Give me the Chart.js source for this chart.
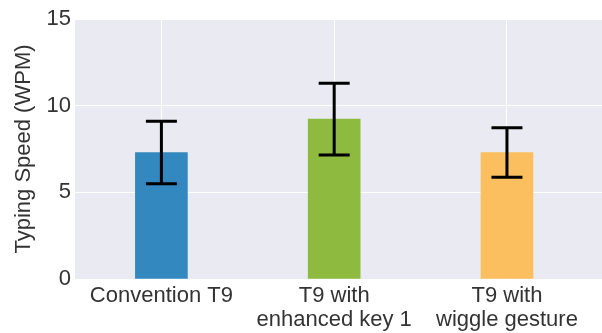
<!DOCTYPE html>
<html>
<head>
<meta charset="utf-8">
<script src="https://cdn.jsdelivr.net/npm/chart.js@4"></script>
<style>
  body { margin: 0; background: #fff; }
  #wrap { width: 602px; height: 333px; }
</style>
</head>
<body>
<div id="wrap"><canvas id="myChart" width="602" height="333"></canvas></div>
<script>
const categories = [["Convention T9"], ["T9 with", "enhanced key 1"], ["T9 with", "wiggle gesture"]];
const means = [7.3, 9.22, 7.3];
const errs = [1.8, 2.07, 1.43];
const yTicks = [0, 5, 10, 15];
const barColors = ["#3388bf", "#8fba40", "#fbbf5f"];

// grey seaborn-like plot background
const plotBg = {
  id: "plotBg",
  beforeDraw(chart) {
    const { ctx, chartArea: a } = chart;
    ctx.save();
    ctx.fillStyle = "#eaeaf2";
    ctx.fillRect(a.left, a.top, a.right - a.left, a.bottom - a.top);
    ctx.restore();
  },
};

// error bars with caps
const errorBars = {
  id: "errorBars",
  afterDatasetsDraw(chart) {
    const { ctx, scales } = chart;
    ctx.save();
    ctx.strokeStyle = "#000";
    ctx.lineWidth = 3;
    means.forEach((m, i) => {
      const x = scales.x.getPixelForValue(i);
      const top = scales.y.getPixelForValue(m + errs[i]);
      const bot = scales.y.getPixelForValue(m - errs[i]);
      ctx.beginPath();
      ctx.moveTo(x, top);
      ctx.lineTo(x, bot);
      ctx.moveTo(x - 15.5, top);
      ctx.lineTo(x + 15.5, top);
      ctx.moveTo(x - 15.5, bot);
      ctx.lineTo(x + 15.5, bot);
      ctx.stroke();
    });
    ctx.restore();
  },
};

const ctx = document.getElementById("myChart").getContext("2d");
const myChart = new Chart(ctx, {
  type: "bar",
  data: {
    datasets: [
      {
        data: means.map((v, i) => ({ x: i, y: v })),
        backgroundColor: barColors,
        borderWidth: 0,
        barThickness: 52,
      },
    ],
  },
  options: {
    responsive: false,
    animation: false,
    layout: { padding: { top: 19, right: 0, left: 0, bottom: 0 } },
    plugins: { legend: { display: false }, tooltip: { enabled: false } },
    scales: {
      x: {
        type: "linear",
        min: -0.5,
        max: 2.55,
        offset: false,
        afterBuildTicks: (axis) => {
          axis.ticks = categories.map((c, i) => ({ value: i }));
        },
        afterFit: (axis) => {
          axis.height = 54;
        },
        grid: { color: "#ffffff", lineWidth: 1, drawTicks: false, offset: false },
        border: { display: false },
        ticks: {
          padding: 5,
          color: "#333333",
          font: { family: "Liberation Sans", size: 22, lineHeight: 1.08 },
          callback: (v) => categories[v],
        },
      },
      y: {
        min: 0,
        max: 15,
        afterBuildTicks: (axis) => {
          axis.ticks = yTicks.map((v) => ({ value: v }));
        },
        afterFit: (axis) => {
          axis.width = 75;
        },
        grid: { color: "#ffffff", lineWidth: 1, drawTicks: false },
        border: { display: false },
        ticks: {
          padding: 4,
          color: "#333333",
          font: { family: "Liberation Sans", size: 22 },
        },
        title: {
          display: true,
          text: "Typing Speed (WPM)",
          color: "#333333",
          font: { family: "Liberation Sans", size: 22 },
          padding: { top: 11, bottom: 0 },
        },
      },
    },
  },
  plugins: [plotBg, errorBars],
});
</script>
</body>
</html>
